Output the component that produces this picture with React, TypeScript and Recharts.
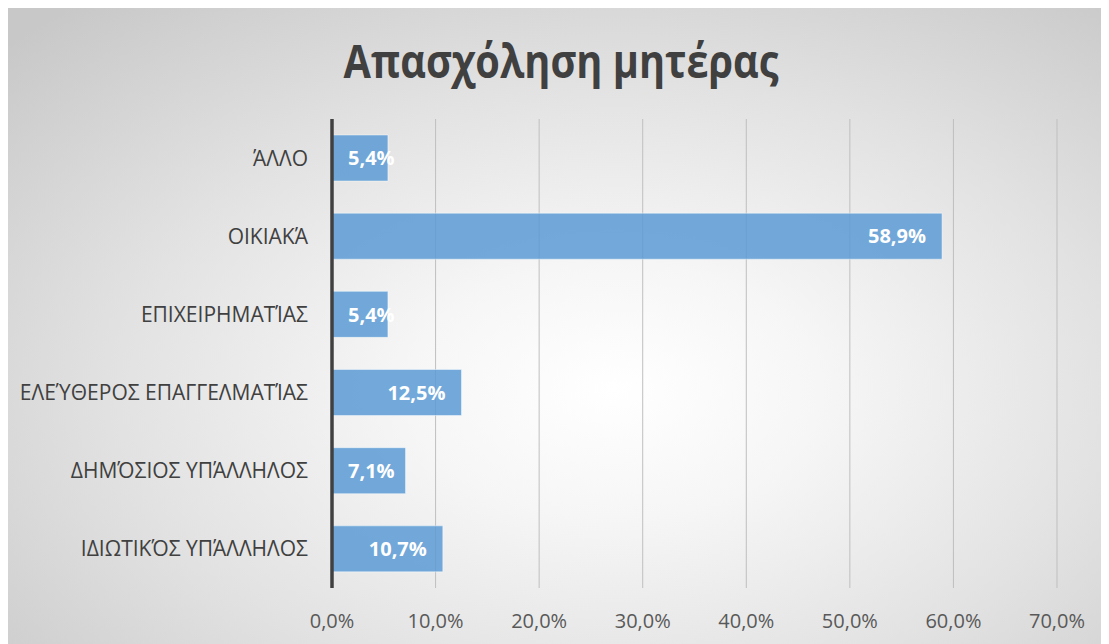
import React from "react";
import { BarChart, Bar, XAxis, YAxis, CartesianGrid, LabelList } from "recharts";

const categories = [
  "ΆΛΛΟ",
  "ΟΙΚΙΑΚΆ",
  "ΕΠΙΧΕΙΡΗΜΑΤΊΑΣ",
  "ΕΛΕΎΘΕΡΟΣ ΕΠΑΓΓΕΛΜΑΤΊΑΣ",
  "ΔΗΜΌΣΙΟΣ ΥΠΆΛΛΗΛΟΣ",
  "ΙΔΙΩΤΙΚΌΣ ΥΠΆΛΛΗΛΟΣ",
];
const values = [5.4, 58.9, 5.4, 12.5, 7.1, 10.7];
const xTicks = [0, 10, 20, 30, 40, 50, 60, 70];
const title = "Απασχόληση μητέρας";

const data = categories.map((name, i) => ({ name, value: values[i] }));

const fmt = (v: number) => v.toFixed(1).replace(".", ",") + "%";
const FONT = "'Open Sans', 'Noto Sans', sans-serif";

const BarLabel = (props: any) => {
  const { x, y, width, height, value } = props;
  const text = fmt(Number(value));
  const fontSize = 20;
  const approxW = text.length * fontSize * 0.6;
  let tx = x + width - 16;
  let anchor: "end" | "start" = "end";
  if (tx - approxW < x + 16) {
    tx = x + 16;
    anchor = "start";
  }
  return (
    <text
      x={tx}
      y={y + height / 2}
      dy="0.36em"
      textAnchor={anchor}
      fill="#ffffff"
      fontWeight={700}
      fontSize={fontSize}
      fontFamily={FONT}
    >
      {text}
    </text>
  );
};

export default function App() {
  return (
    <div
      style={{
        position: "relative",
        width: 1102,
        height: 636,
        background:
          "radial-gradient(ellipse 75% 80% at 55% 60%, #ffffff 0%, #f6f6f6 25%, #e2e2e2 60%, #c8c8c8 100%)",
        fontFamily: FONT,
      }}
    >
      <svg
        width={1102}
        height={100}
        style={{ position: "absolute", left: 0, top: 0 }}
      >
        <text
          x={553}
          y={70}
          textAnchor="middle"
          fontFamily={FONT}
          fontWeight={700}
          fontSize={46}
          fill="#404040"
          textLength={435}
          lengthAdjust="spacingAndGlyphs"
        >
          {title}
        </text>
      </svg>
      <div style={{ position: "absolute", left: 0, top: 0 }}>
        <BarChart
          width={1102}
          height={636}
          data={data}
          layout="vertical"
          margin={{ top: 111, right: 53, bottom: 0, left: 0 }}
          barCategoryGap="20.5%"
        >
          <CartesianGrid horizontal={false} stroke="#bfbfbf" strokeWidth={1} />
          <XAxis
            type="number"
            domain={[0, 70]}
            ticks={xTicks}
            tickFormatter={fmt}
            axisLine={false}
            tickLine={false}
            height={56}
            tickMargin={20}
            tick={{ fill: "#595959", fontSize: 20, fontFamily: FONT }}
            interval={0}
          />
          <YAxis
            type="category"
            dataKey="name"
            width={324}
            axisLine={{ stroke: "#404040", strokeWidth: 3.5 }}
            tickLine={false}
            tickMargin={18}
            tick={{ fill: "#404040", fontSize: 21, fontFamily: FONT }}
            interval={0}
          />
          <Bar
            dataKey="value"
            fill="#5b9bd5"
            fillOpacity={0.85}
            stroke="#ffffff"
            strokeOpacity={0.45}
            strokeWidth={1}
            isAnimationActive={false}
          >
            <LabelList dataKey="value" content={<BarLabel />} />
          </Bar>
        </BarChart>
      </div>
    </div>
  );
}
